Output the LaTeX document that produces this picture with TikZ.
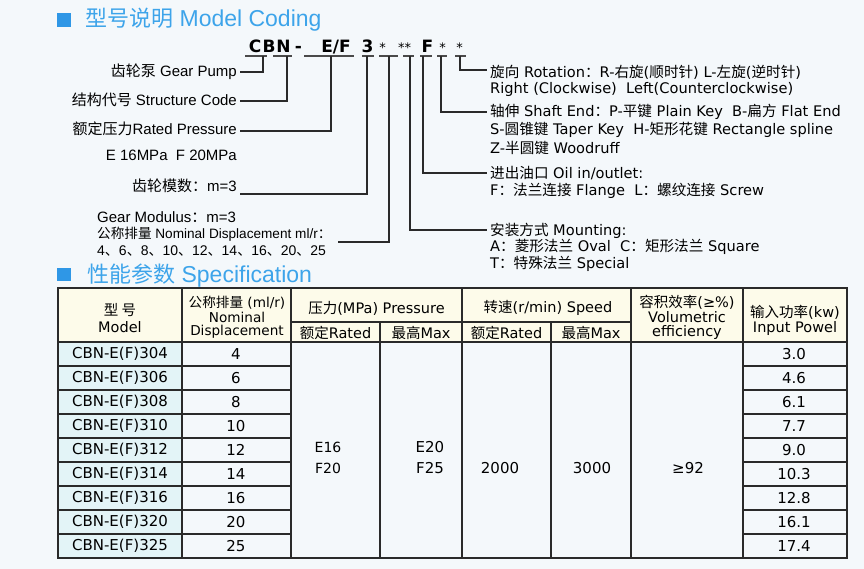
\documentclass[tikz,border=0pt]{standalone}
\usepackage{fontspec}
\setmainfont{Liberation Sans}
\newfontfamily\dv{DejaVu Sans}
\newfontfamily\cjk{Noto Sans CJK SC}
\newcommand{\zh}[1]{{\cjk #1}}
\definecolor{bgc}{HTML}{F4F8FB}
\definecolor{ttlc}{HTML}{3DA4EA}
\definecolor{sqc}{HTML}{2F97E6}
\definecolor{hdrc}{HTML}{FDFBEA}
\definecolor{mcolc}{HTML}{E3F4F7}
\definecolor{lnc}{HTML}{2A2A2A}
\begin{document}
\begin{tikzpicture}[x=1pt,y=-1pt,
  ttl/.style={inner sep=0pt,anchor=west,text=ttlc,font=\fontsize{23}{24}\selectfont},
  lab/.style={inner sep=0pt,font=\fontsize{15}{17}\selectfont},
  rt/.style={inner sep=0pt,anchor=west,font=\dv\fontsize{14.6}{17}\selectfont},
  codech/.style={inner sep=0pt,anchor=base,font=\dv\bfseries\fontsize{17}{17}\selectfont},
  astch/.style={inner sep=0pt,anchor=base,font=\dv\fontsize{13}{13}\selectfont},
  uline/.style={draw=lnc!85,line width=1.2pt},
  lead/.style={draw=lnc,line width=1.1pt},
  tab/.style={draw=lnc,line width=1.2pt},
  cell/.style={inner sep=0pt,font=\dv\fontsize{15}{17}\selectfont},
  hcell/.style={inner sep=0pt,font=\dv\fontsize{14.5}{16}\selectfont},
  scell/.style={inner sep=0pt,font=\dv\fontsize{13.6}{15}\selectfont}]
\fill[bgc] (0,0) rectangle (864,569);
\useasboundingbox (0,0) rectangle (864,569);

% ---------- titles
\fill[sqc] (57,13) rectangle (71,27);
\node[ttl] (t1) at (85,20) {{\cjk\fontsize{22}{24}\selectfont 型号说明} Model Coding};
\fill[sqc] (57,268) rectangle (71,281);
\node[ttl] (t2) at (87,276) {{\cjk\fontsize{22}{24}\selectfont 性能参数} Specification};

% ---------- model code
\node[codech] (cC) at (255,53) {C};
\node[codech] (cB) at (269,53) {B};
\node[codech] (cN) at (283.5,53) {N};
\node[codech] (cH) at (298.5,53) {-};
\node[codech] (cEF) at (336,53) {E/F};
\node[codech] (c3) at (367.5,53) {3};
\node[astch] (s1) at (382.5,53) {*};
\node[astch] (s2) at (404.5,53) {**};
\node[codech] (cF) at (427.5,53) {F};
\node[astch] (s3) at (442.5,53) {*};
\node[astch] (s4) at (459.5,53) {*};

\foreach \a/\b in {245/267,273/292,304/354,362/374,379/398,403/414,420/432,437/447,455/466}
  \draw[uline] (\a,56) -- (\b,56);

\coordinate (uGP) at (263,56);
\coordinate (uSC) at (287,56);
\coordinate (uRP) at (331,56);
\coordinate (uGM) at (367,56);
\coordinate (uND) at (389,56);
\coordinate (uMT) at (410,56);
\coordinate (uOL) at (423,56);
\coordinate (uSH) at (441,56);
\coordinate (uRO) at (460,56);

% ---------- left labels
\node[lab,anchor=east] (L1) at (237,72) {\zh{齿轮泵} Gear Pump};
\node[lab,anchor=east] (L2) at (237,100) {\zh{结构代号} Structure Code};
\node[lab,anchor=east] (L3) at (237,129) {\zh{额定压力}Rated Pressure};
\node[lab,anchor=east] (L4) at (237,155) {E 16MPa\ \ F 20MPa};
\node[lab,anchor=east] (L5) at (237,186) {\zh{齿轮模数：}m=3};
\node[lab,anchor=west] (L6) at (97,217) {Gear Modulus\zh{：}m=3};
\node[lab,anchor=west,font=\fontsize{13.6}{15}\selectfont] (L7) at (97,234) {\zh{公称排量} Nominal Displacement ml/r\zh{：}};
\node[lab,anchor=west,font=\fontsize{14}{15}\selectfont] (L8) at (97,251) {4\zh{、}6\zh{、}8\zh{、}10\zh{、}12\zh{、}14\zh{、}16\zh{、}20\zh{、}25};

\coordinate (aGP) at (240,72);
\coordinate (aSC) at (240,101);
\coordinate (aRP) at (240,131);
\coordinate (aGM) at (240,194);
\coordinate (aND) at (338,242);
\draw[lead] (aGP) -| (uGP);
\draw[lead] (aSC) -| (uSC);
\draw[lead] (aRP) -| (uRP);
\draw[lead] (aGM) -| (uGM);
\draw[lead] (aND) -| (uND);

% ---------- right labels
\coordinate (bRO) at (487,70);
\coordinate (bSH) at (487,112);
\coordinate (bOL) at (487,173);
\coordinate (bMT) at (487,230);
\draw[lead] (uRO) |- (bRO);
\draw[lead] (uSH) |- (bSH);
\draw[lead] (uOL) |- (bOL);
\draw[lead] (uMT) |- (bMT);

\node[rt] (R1) at (490,72) {\zh{旋向} Rotation\zh{：}R-\zh{右旋}(\zh{顺时针}) L-\zh{左旋}(\zh{逆时针})};
\node[rt] (R2) at (490,89) {Right (Clockwise)\ \ Left(Counterclockwise)};
\node[rt] (R3) at (490,112) {\zh{轴伸} Shaft End\zh{：}P-\zh{平键} Plain Key\ \ B-\zh{扁方} Flat End};
\node[rt] (R4) at (490,130) {S-\zh{圆锥键} Taper Key\ \ H-\zh{矩形花键} Rectangle spline};
\node[rt] (R5) at (490,148) {Z-\zh{半圆键} Woodruff};
\node[rt] (R6) at (490,173) {\zh{进出油口} Oil in/outlet:};
\node[rt] (R7) at (490,191) {F\zh{：法兰连接} Flange\ \ L\zh{：螺纹连接} Screw};
\node[rt] (R8) at (490,231) {\zh{安装方式} Mounting:};
\node[rt] (R9) at (490,247) {A\zh{：菱形法兰} Oval\ \ C\zh{：矩形法兰} Square};
\node[rt] (R10) at (490,264) {T\zh{：特殊法兰} Special};

% ---------- table
\fill[hdrc] (58,288) rectangle (847,342);
\fill[mcolc] (58,342) rectangle (182,558);
\draw[tab] (58,288) rectangle (847,558);
\draw[tab] (58,342) -- (847,342);
\draw[tab] (291,322) -- (631,322);
\draw[tab] (182,288) -- (182,558);
\draw[tab] (291,288) -- (291,558);
\draw[tab] (380,322) -- (380,558);
\draw[tab] (462,288) -- (462,558);
\draw[tab] (551,322) -- (551,558);
\draw[tab] (631,288) -- (631,558);
\draw[tab] (743,288) -- (743,558);
\foreach \k in {1,...,8} {
  \draw[tab] (58,342+24*\k) -- (291,342+24*\k);
  \draw[tab] (743,342+24*\k) -- (847,342+24*\k);
}

% header
\node[hcell] (H1a) at (120,310) {\zh{型\ 号}};
\node[hcell] (H1b) at (120,327) {Model};
\node[scell] (H2a) at (237,303) {\zh{公称排量} (ml/r)};
\node[scell] (H2b) at (237,317) {Nominal};
\node[scell] (H2c) at (237,332) {Displacement};
\node[hcell] (H3) at (376.5,308) {\zh{压力}(MPa) Pressure};
\node[hcell] (H3a) at (335.5,333) {\zh{额定}Rated};
\node[hcell] (H3b) at (421,333) {\zh{最高}Max};
\node[hcell] (H4) at (548,308) {\zh{转速}(r/min) Speed};
\node[hcell] (H4a) at (506.5,333) {\zh{额定}Rated};
\node[hcell] (H4b) at (591,333) {\zh{最高}Max};
\node[hcell] (H5a) at (687,302) {\zh{容积效率}(≥\%)};
\node[hcell] (H5b) at (687,317) {Volumetric};
\node[hcell] (H5c) at (687,332) {efficiency};
\node[hcell] (H6a) at (795,312) {\zh{输入功率}(kw)};
\node[hcell] (H6b) at (795,328) {Input Powel};

% body
\foreach \m/\d/\p [count=\i from 0] in {304/4/3.0,306/6/4.6,308/8/6.1,310/10/7.7,312/12/9.0,314/14/10.3,316/16/12.8,320/20/16.1,325/25/17.4} {
  \node[cell] (M\i) at (120,354+24*\i) {CBN-E(F)\m};
  \node[cell] (D\i) at (236,354+24*\i) {\d};
  \node[cell] (P\i) at (794,354+24*\i) {\p};
}
\node[cell,font=\dv\fontsize{14}{16}\selectfont] (pr1) at (328,447) {E16};
\node[cell,font=\dv\fontsize{14}{16}\selectfont] (pr2) at (328,468) {F20};
\node[cell] (mx1) at (430,447) {E20};
\node[cell] (mx2) at (430,468) {F25};
\node[cell] (sp1) at (500,468) {2000};
\node[cell] (sp2) at (592,468) {3000};
\node[cell] (ef) at (688,468) {≥92};
\end{tikzpicture}
\end{document}
